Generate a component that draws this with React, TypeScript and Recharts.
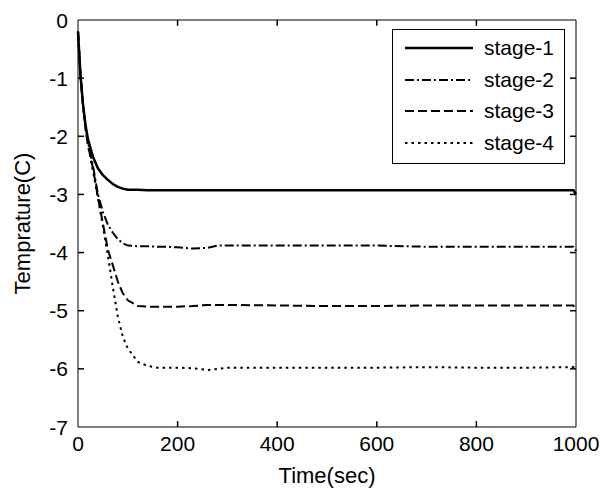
import { LineChart, Line, XAxis, YAxis, Legend, ReferenceLine } from 'recharts';

// time axis (sec) and readings for each stage (C)
const time = [0, 5, 10, 15, 20, 30, 40, 50, 60, 70, 80, 90, 100, 120, 140, 160, 180, 200, 230, 260, 280, 300, 400, 500, 600, 700, 800, 900, 995, 1000];
const stage1 = [-0.2, -0.95, -1.45, -1.8, -2.05, -2.35, -2.55, -2.67, -2.75, -2.82, -2.87, -2.9, -2.92, -2.92, -2.93, -2.93, -2.93, -2.93, -2.93, -2.93, -2.93, -2.93, -2.93, -2.93, -2.93, -2.93, -2.93, -2.93, -2.93, -3.0];
const stage2 = [-0.2, -0.95, -1.45, -1.85, -2.1, -2.5, -3.0, -3.3, -3.52, -3.66, -3.77, -3.84, -3.88, -3.89, -3.89, -3.9, -3.9, -3.91, -3.93, -3.92, -3.88, -3.88, -3.88, -3.88, -3.88, -3.9, -3.9, -3.9, -3.9, -3.97];
const stage3 = [-0.2, -0.95, -1.45, -1.85, -2.15, -2.55, -3.05, -3.5, -3.95, -4.22, -4.5, -4.7, -4.82, -4.92, -4.93, -4.93, -4.93, -4.93, -4.92, -4.9, -4.9, -4.9, -4.91, -4.92, -4.92, -4.91, -4.91, -4.91, -4.91, -4.98];
const stage4 = [-0.2, -0.95, -1.45, -1.85, -2.15, -2.6, -3.05, -3.55, -4.05, -4.6, -5.1, -5.45, -5.65, -5.88, -5.95, -5.98, -5.98, -5.98, -5.99, -6.02, -6.0, -5.98, -5.98, -5.98, -5.98, -5.97, -5.98, -5.98, -5.97, -6.0];

const xTicks = [0, 200, 400, 600, 800, 1000];
const yTicks = [0, -1, -2, -3, -4, -5, -6, -7];
const X_MIN = 0, X_MAX = 1000, Y_MIN = -7, Y_MAX = 0;

const series = [
  { key: 'stage-1', values: stage1, width: 2.5, dash: undefined },
  { key: 'stage-2', values: stage2, width: 2, dash: '9 3 2 3' },
  { key: 'stage-3', values: stage3, width: 2, dash: '9 4' },
  { key: 'stage-4', values: stage4, width: 2, dash: '2.5 4' },
];

const data = time.map((t, i) => {
  const row: Record<string, number> = { t };
  series.forEach(s => { row[s.key] = s.values[i]; });
  return row;
});

const FONT = '"Liberation Sans", Arial, sans-serif';
const labelStyle = { fontSize: 22, fill: '#000', fontFamily: FONT };
const GAP = 8; // gap between frame and tick label
// inward tick length, in axis units (about 6px each way)
const X_TICK_LEN = 0.1;
const Y_TICK_LEN = 12;

function BottomTick({ x, y, payload }: any) {
  return <text x={x} y={y} dy="0.75em" textAnchor="middle" fontSize={21} fontFamily={FONT} fill="#000">{payload.value}</text>;
}
function LeftTick({ x, y, payload }: any) {
  return <text x={x - 2} y={y} dy="0.36em" textAnchor="end" fontSize={21} fontFamily={FONT} fill="#000">{payload.value}</text>;
}

function LegendBox() {
  return (
    <div style={{ width: 171, height: 133, border: '1px solid #000', background: '#fff', position: 'relative', fontFamily: FONT }}>
      {series.map((s, i) => (
        <div key={s.key} style={{ position: 'absolute', left: 12, top: 3 + i * 31.7, height: 30, display: 'flex', alignItems: 'center' }}>
          <svg width={70} height={10}>
            <line x1={0} y1={5} x2={68} y2={5} stroke="#000" strokeWidth={s.width} strokeDasharray={s.dash} />
          </svg>
          <span style={{ marginLeft: 9, fontSize: 21, color: '#000', lineHeight: '30px' }}>{s.key}</span>
        </div>
      ))}
    </div>
  );
}

export default function App() {
  return (
    <div style={{ position: 'absolute', left: 0, top: 0, width: 608, height: 489, background: '#fff' }}>
      <LineChart width={608} height={489} data={data} margin={{ top: 19, right: 31, left: 0, bottom: 0 }}>
        <XAxis
          dataKey="t" type="number" domain={[X_MIN, X_MAX]} ticks={xTicks}
          height={62} tickSize={0} tickMargin={GAP} tickLine={false}
          stroke="#000" tick={<BottomTick />}
          label={{ value: 'Time(sec)', position: 'insideBottom', offset: 6, style: labelStyle }}
        />
        <XAxis
          xAxisId="top" orientation="top" dataKey="t" type="number" domain={[X_MIN, X_MAX]} ticks={xTicks}
          height={1} tickSize={0} tickLine={false} tick={false} stroke="#000"
        />
        <YAxis
          type="number" domain={[Y_MIN, Y_MAX]} ticks={yTicks} width={78}
          tickSize={0} tickMargin={GAP} tickLine={false} stroke="#000" tick={<LeftTick />}
          label={{ value: 'Temprature(C)', angle: -90, position: 'insideLeft', offset: 22, style: { ...labelStyle, textAnchor: 'middle' } }}
        />
        <YAxis
          yAxisId="right" orientation="right" type="number" domain={[Y_MIN, Y_MAX]} ticks={yTicks}
          width={1} tickSize={0} tickLine={false} tick={false} stroke="#000"
        />
        <Legend
          layout="vertical" align="center" verticalAlign="middle"
          wrapperStyle={{ left: 392, top: 29, width: 173 }}
          content={() => <LegendBox />}
        />
        {/* inward ticks on all four sides of the frame */}
        {xTicks.slice(1, -1).flatMap(v => [
          <ReferenceLine key={`xb${v}`} segment={[{ x: v, y: Y_MIN }, { x: v, y: Y_MIN + X_TICK_LEN }]} stroke="#000" strokeWidth={1.5} ifOverflow="visible" />,
          <ReferenceLine key={`xt${v}`} segment={[{ x: v, y: Y_MAX }, { x: v, y: Y_MAX - X_TICK_LEN }]} stroke="#000" strokeWidth={1.5} ifOverflow="visible" />,
        ])}
        {yTicks.slice(1, -1).flatMap(v => [
          <ReferenceLine key={`yl${v}`} segment={[{ x: X_MIN, y: v }, { x: X_MIN + Y_TICK_LEN, y: v }]} stroke="#000" strokeWidth={1.5} ifOverflow="visible" />,
          <ReferenceLine key={`yr${v}`} segment={[{ x: X_MAX, y: v }, { x: X_MAX - Y_TICK_LEN, y: v }]} stroke="#000" strokeWidth={1.5} ifOverflow="visible" />,
        ])}
        {series.map(s => (
          <Line
            key={s.key} dataKey={s.key} type="linear" stroke="#000"
            strokeWidth={s.width} strokeDasharray={s.dash}
            dot={false} activeDot={false} isAnimationActive={false}
          />
        ))}
        {/* invisible series so the top and right frame axes get drawn */}
        <Line
          xAxisId="top" yAxisId="right" dataKey="stage-1" stroke="none"
          dot={false} activeDot={false} legendType="none" isAnimationActive={false}
        />
      </LineChart>
    </div>
  );
}
